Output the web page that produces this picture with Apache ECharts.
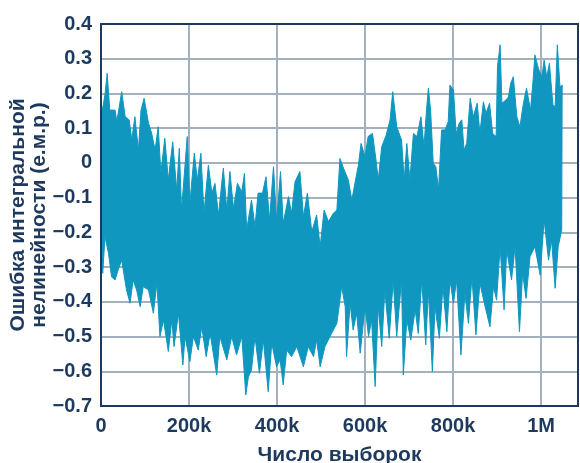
<!DOCTYPE html>
<html>
<head>
<meta charset="utf-8">
<script src="https://cdn.jsdelivr.net/npm/echarts@6/dist/echarts.min.js"></script>
<style>
html,body{margin:0;padding:0;background:#fff;}
#chart{width:580px;height:463px;}
</style>
</head>
<body>
<div id="chart"></div>
<script>
// X in thousands of samples, Y in LSB (rms)
var upperEnvelope = [[0,0.13],[9,0.196],[14,0.258],[20,0.152],[32,0.152],[36,0.119],[47,0.205],[55,0.133],[64,0.124],[70,0.066],[77,0.133],[85,0.037],[91,0.152],[98,0.186],[108,0.114],[115,0.086],[123,0.037],[130,0.104],[136,-0.029],[145,0.071],[153,-0.049],[163,0.061],[172,-0.078],[178,0.042],[183,-0.136],[196,0.076],[202,-0.116],[212,0.028],[219,-0.049],[227,0.028],[234,-0.145],[244,-0.006],[252,-0.087],[259,-0.059],[267,-0.15],[278,-0.015],[286,-0.136],[293,-0.025],[301,-0.131],[310,-0.059],[320,-0.083],[326,-0.03],[331,-0.193],[342,-0.107],[350,-0.184],[357,-0.087],[367,-0.087],[375,-0.04],[383,-0.164],[392,-0.011],[399,-0.169],[408,-0.025],[414,-0.174],[426,-0.097],[433,-0.145],[441,-0.054],[452,-0.025],[460,-0.155],[469,-0.087],[479,-0.198],[490,-0.15],[498,-0.241],[507,-0.136],[517,-0.169],[528,-0.145],[536,-0.136],[543,0.013],[551,-0.015],[562,-0.049],[570,-0.107],[577,-0.059],[585,-0.006],[591,0.056],[600,0.018],[607,0.076],[617,0.085],[625,0.008],[630,-0.049],[638,0.047],[648,0.08],[657,0.124],[663,0.205],[672,0.104],[683,0.066],[689,-0.049],[695,0.056],[702,-0.049],[710,0.085],[718,0.076],[727,0.133],[734,0.047],[740,0.157],[744,0.215],[749,0.152],[755,-0.001],[761,-0.011],[767,-0.078],[774,0.095],[782,0.095],[789,0.119],[793,0.224],[801,0.21],[807,0.085],[814,0.114],[820,0.124],[825,0.037],[831,0.056],[839,0.186],[846,0.133],[855,0.172],[861,0.085],[869,0.176],[875,0.143],[883,0.172],[890,0.085],[898,0.076],[901,0.277],[907,0.34],[911,0.172],[920,0.181],[926,0.19],[931,0.229],[937,0.248],[945,0.133],[952,0.104],[960,0.172],[967,0.215],[976,0.152],[982,0.239],[986,0.311],[994,0.272],[1002,0.248],[1007,0.296],[1013,0.248],[1019,0.287],[1027,0.167],[1032,0.162],[1037,0.34],[1043,0.219],[1048,0.224]];

var lowerEnvelope = [[0,-0.29],[4,-0.318],[9,-0.212],[17,-0.26],[24,-0.328],[32,-0.337],[39,-0.308],[47,-0.28],[58,-0.366],[66,-0.404],[73,-0.337],[81,-0.366],[89,-0.414],[96,-0.356],[108,-0.366],[119,-0.433],[127,-0.346],[134,-0.5],[142,-0.452],[153,-0.543],[161,-0.452],[166,-0.529],[176,-0.433],[186,-0.582],[191,-0.5],[202,-0.572],[210,-0.5],[221,-0.539],[229,-0.472],[239,-0.558],[248,-0.491],[263,-0.611],[270,-0.5],[286,-0.567],[297,-0.5],[308,-0.553],[320,-0.5],[329,-0.668],[335,-0.616],[342,-0.596],[350,-0.5],[360,-0.606],[369,-0.51],[380,-0.659],[388,-0.519],[399,-0.587],[407,-0.567],[414,-0.639],[422,-0.539],[433,-0.558],[445,-0.529],[460,-0.587],[471,-0.529],[483,-0.558],[490,-0.51],[498,-0.587],[509,-0.529],[524,-0.491],[536,-0.462],[547,-0.356],[555,-0.414],[558,-0.558],[566,-0.404],[573,-0.481],[581,-0.433],[589,-0.548],[600,-0.414],[608,-0.5],[615,-0.452],[623,-0.644],[630,-0.414],[638,-0.529],[645,-0.366],[655,-0.505],[664,-0.337],[672,-0.5],[683,-0.337],[687,-0.611],[695,-0.452],[704,-0.51],[714,-0.423],[721,-0.491],[729,-0.337],[738,-0.524],[744,-0.366],[753,-0.601],[759,-0.414],[769,-0.505],[777,-0.356],[786,-0.486],[793,-0.337],[801,-0.404],[808,-0.337],[818,-0.553],[827,-0.375],[835,-0.462],[843,-0.328],[852,-0.495],[861,-0.346],[873,-0.414],[884,-0.472],[892,-0.356],[899,-0.395],[907,-0.241],[916,-0.423],[922,-0.25],[933,-0.337],[941,-0.241],[951,-0.486],[958,-0.318],[966,-0.39],[975,-0.27],[986,-0.241],[998,-0.323],[1007,-0.164],[1017,-0.28],[1024,-0.222],[1032,-0.361],[1039,-0.241],[1047,-0.193]];

var xTickValues = [0, 200000, 400000, 600000, 800000, 1000000];
var xTickLabels = ['0', '200k', '400k', '600k', '800k', '1M'];
var yTickLabels = ['−0.7','−0.6','−0.5','−0.4','−0.3','−0.2','−0.1','0','0.1','0.2','0.3','0.4'];

var xTitle = 'Число выборок';
var yTitle = 'Ошибка интегральной\nнелинейности (е.м.р.)';

var TEXT = '#1d3a5e';
var GRIDC = '#a3b0bd';
var DATA = '#0f97c0';
var FONT = '"Liberation Sans", Arial, sans-serif';

var chart = echarts.init(document.getElementById('chart'), null, {renderer: 'canvas'});

chart.setOption({
  animation: false,
  backgroundColor: '#ffffff',
  grid: {
    left: 101, right: 2, top: 24, bottom: 57,
    containLabel: false,
    outerBoundsMode: 'none',
    show: true, z: 10,
    backgroundColor: 'transparent',
    borderColor: TEXT, borderWidth: 2
  },
  xAxis: {
    type: 'value',
    min: 0, max: 1084000, interval: 200000,
    axisLine: {show: false},
    axisTick: {show: false},
    splitLine: {show: true, lineStyle: {color: GRIDC, width: 2}},
    axisLabel: {
      color: TEXT, fontFamily: FONT, fontWeight: 'bold', fontSize: 20, margin: 10,
      showMaxLabel: false,
      formatter: function (v) {
        var i = xTickValues.indexOf(Math.round(v));
        return i >= 0 ? xTickLabels[i] : '';
      }
    },
    name: xTitle,
    nameLocation: 'middle',
    nameMoveOverlap: false,
    nameGap: 39,
    nameTextStyle: {color: TEXT, fontFamily: FONT, fontWeight: 'bold', fontSize: 21}
  },
  yAxis: {
    type: 'value',
    min: -0.7, max: 0.4, interval: 0.1,
    axisLine: {show: false},
    axisTick: {show: false},
    splitLine: {show: true, lineStyle: {color: GRIDC, width: 2}},
    axisLabel: {
      color: TEXT, fontFamily: FONT, fontWeight: 'bold', fontSize: 20, margin: 9,
      formatter: function (v) {
        var i = Math.round((v + 0.7) * 10);
        return yTickLabels[i] || '';
      }
    },
    name: yTitle,
    nameLocation: 'middle',
    nameRotate: 90,
    nameMoveOverlap: false,
    nameGap: 51,
    nameTextStyle: {color: TEXT, fontFamily: FONT, fontWeight: 'bold', fontSize: 21, lineHeight: 21}
  },
  series: [{
    type: 'custom',
    coordinateSystem: 'cartesian2d',
    clip: true,
    data: [[0, 0]],
    renderItem: function (params, api) {
      var pts = [];
      var i;
      for (i = 0; i < upperEnvelope.length; i++) {
        pts.push(api.coord([upperEnvelope[i][0] * 1000, upperEnvelope[i][1]]));
      }
      for (i = lowerEnvelope.length - 1; i >= 0; i--) {
        pts.push(api.coord([lowerEnvelope[i][0] * 1000, lowerEnvelope[i][1]]));
      }
      return {
        type: 'polygon',
        shape: {points: pts},
        style: {fill: DATA, stroke: DATA, lineWidth: 1}
      };
    }
  }]
});
</script>
</body>
</html>
